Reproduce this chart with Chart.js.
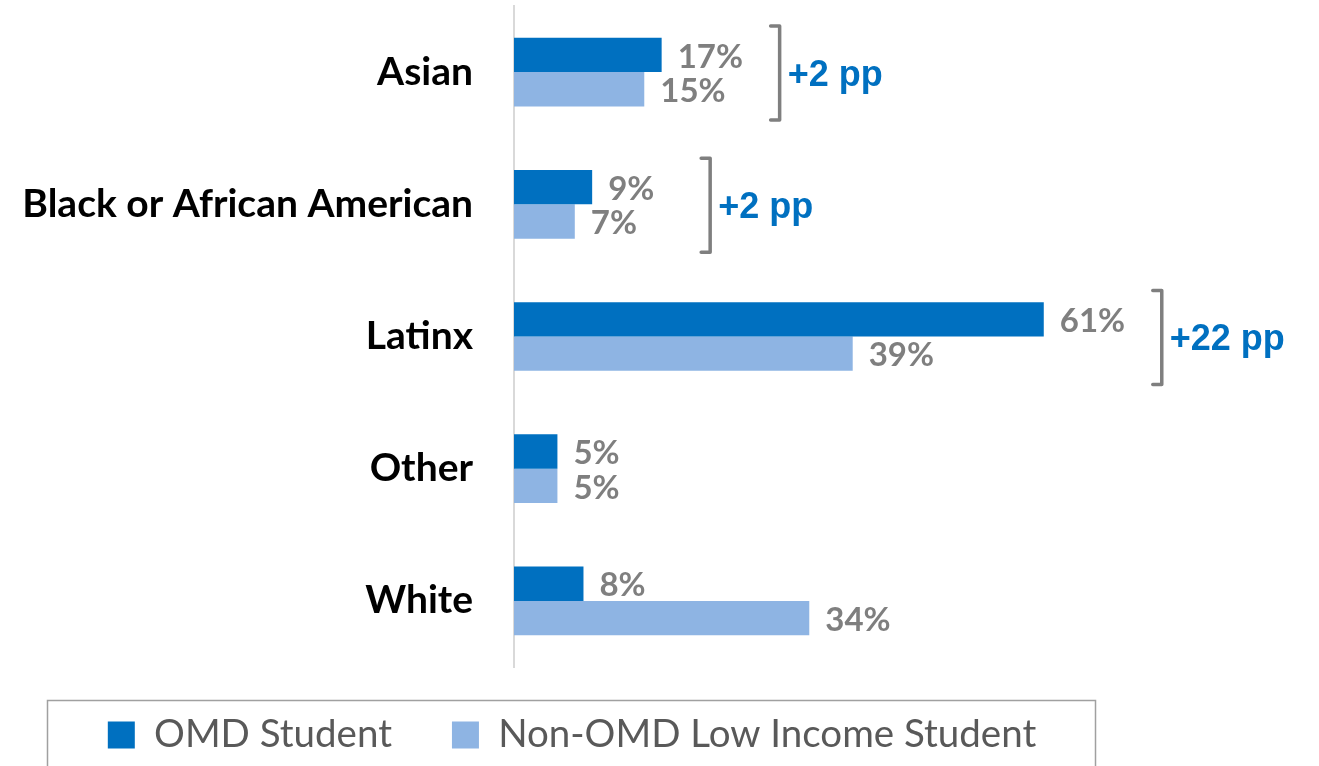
<!DOCTYPE html>
<html><head><meta charset="utf-8">
<script src="https://cdn.jsdelivr.net/npm/chart.js@4.4.1/dist/chart.umd.min.js"></script>
<style>html,body{margin:0;padding:0;background:#fff;overflow:hidden}</style>
</head><body>
<canvas id="c" width="1319" height="766"></canvas>
<script>
const categories = ['Asian', 'Black or African American', 'Latinx', 'Other', 'White'];
const seriesNames = ['OMD Student', 'Non-OMD Low Income Student'];
const omdValues = [17, 9, 61, 5, 8];
const nonOmdValues = [15, 7, 39, 5, 34];
const showGap = [true, true, true, false, false];

const DARK = '#0070C0', LIGHT = '#8EB4E3', GRAY = '#7F7F7F';
const LEG_PAD = 60, LEG_FONT = 38.5, LEG_CENTER = 572;

const dataLabels = {
  id: 'dataLabels',
  afterDatasetsDraw(chart) {
    const ctx = chart.ctx;
    ctx.save();
    ctx.font = 'bold 33px Lato';
    ctx.fillStyle = GRAY;
    ctx.textAlign = 'left';
    ctx.textBaseline = 'middle';
    chart.data.datasets.forEach((ds, di) => {
      chart.getDatasetMeta(di).data.forEach((bar, i) => {
        ctx.fillText(ds.data[i] + '%', bar.x + 16, bar.y + 2);
      });
    });
    ctx.restore();
  }
};

const brackets = {
  id: 'brackets',
  afterDatasetsDraw(chart) {
    const ctx = chart.ctx, xs = chart.scales.x, ys = chart.scales.y;
    ctx.save();
    categories.forEach((c, i) => {
      if (!showGap[i]) return;
      const cy = ys.getPixelForValue(i) + 1;
      const bx = xs.getPixelForValue(Math.max(omdValues[i], nonOmdValues[i])) + 118;
      ctx.strokeStyle = GRAY;
      ctx.lineWidth = 3.5;
      ctx.lineJoin = 'round';
      ctx.lineCap = 'round';
      ctx.beginPath();
      ctx.moveTo(bx - 9, cy - 47);
      ctx.lineTo(bx, cy - 47);
      ctx.lineTo(bx, cy + 47);
      ctx.lineTo(bx - 9, cy + 47);
      ctx.stroke();
      ctx.font = 'bold 36px "Liberation Sans", Arial';
      ctx.fillStyle = DARK;
      ctx.textAlign = 'left';
      ctx.textBaseline = 'middle';
      const d = omdValues[i] - nonOmdValues[i];
      ctx.fillText((d >= 0 ? '+' : '') + d + ' pp', bx + 8, cy + 3);
    });
    ctx.restore();
  }
};

const legendFrame = {
  id: 'legendFrame',
  afterLayout(chart) {
    const lg = chart.legend;
    lg.top = 735 - LEG_PAD - LEG_FONT / 2;
    lg.bottom = 766;
    lg.height = lg.bottom - lg.top;
    lg.left = 0;
    lg.right = 2 * LEG_CENTER;
    lg.width = 2 * LEG_CENTER;
  },
  afterDraw(chart) {
    const ctx = chart.ctx;
    ctx.save();
    ctx.strokeStyle = '#A0A0A0';
    ctx.lineWidth = 1.5;
    ctx.strokeRect(47.5, 700.5, 1048, 120);
    ctx.restore();
  }
};

new Chart(document.getElementById('c'), {
  type: 'bar',
  data: {
    labels: categories,
    datasets: [
      { label: seriesNames[0], data: omdValues, backgroundColor: DARK, borderWidth: 0 },
      { label: seriesNames[1], data: nonOmdValues, backgroundColor: LIGHT, borderWidth: 0 }
    ]
  },
  options: {
    indexAxis: 'y',
    responsive: false,
    animation: false,
    devicePixelRatio: 1,
    categoryPercentage: 0.52,
    barPercentage: 1,
    layout: { padding: { top: 6, right: 6, left: 0, bottom: 0 } },
    scales: {
      x: { display: false, min: 0, max: 92 },
      y: {
        afterFit(s) { s.width = 514; s.paddingTop = 0; s.paddingBottom = 0; },
        grid: { display: false, drawTicks: false },
        border: { display: true, color: '#D9D9D9', width: 2 },
        ticks: { color: '#000', padding: 41, font: { family: 'Lato', weight: 'bold', size: 39 } }
      }
    },
    plugins: {
      tooltip: { enabled: false },
      legend: {
        position: 'bottom',
        maxHeight: 99,
        labels: {
          color: '#595959',
          boxWidth: 27, boxHeight: 27,
          padding: LEG_PAD,
          font: { family: 'Lato', size: LEG_FONT }
        }
      }
    }
  },
  plugins: [dataLabels, brackets, legendFrame]
});
</script>
</body></html>
